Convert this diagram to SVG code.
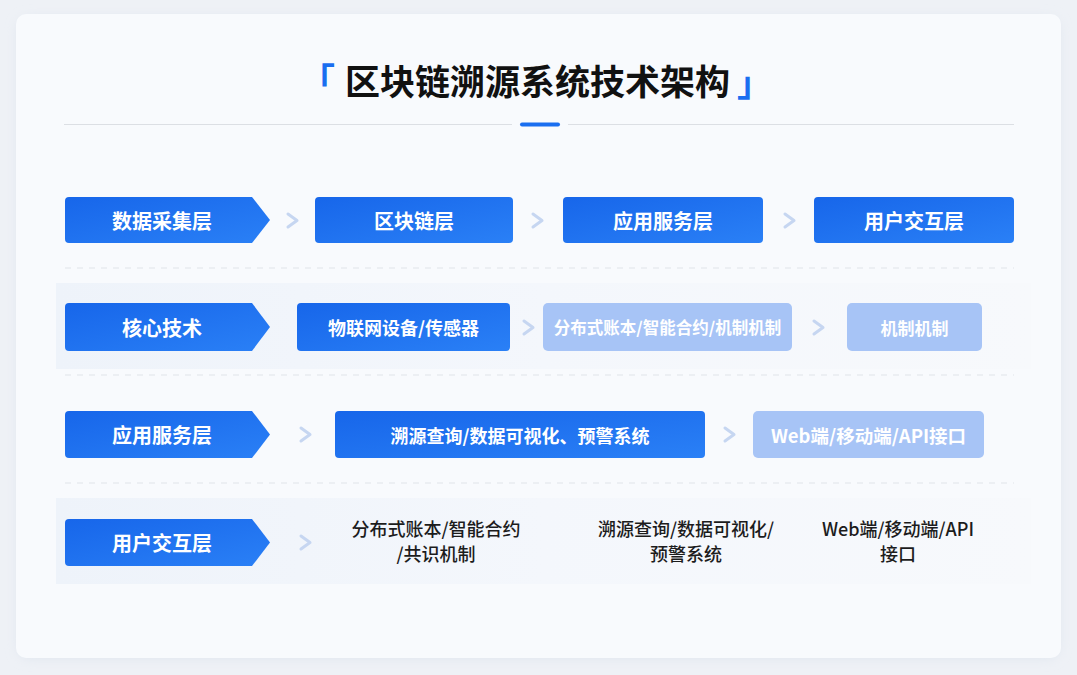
<svg xmlns="http://www.w3.org/2000/svg" width="1077" height="675" viewBox="0 0 1077 675">
<defs>
<linearGradient id="gBlue" x1="0" y1="0" x2="1" y2="1">
<stop offset="0" stop-color="#1766ea"/>
<stop offset="1" stop-color="#2a80f6"/>
</linearGradient>
<linearGradient id="gBand" x1="0" y1="0" x2="1" y2="0">
<stop offset="0" stop-color="#eef3fa"/>
<stop offset="0.5" stop-color="#f4f7fc"/>
<stop offset="1" stop-color="#f7f9fc"/>
</linearGradient>
<filter id="sh" x="-5%" y="-5%" width="110%" height="110%">
<feGaussianBlur stdDeviation="6"/>
</filter>
<style>
.dark{fill:url(#gBlue);}
.light{fill:#a7c4f6;}
.lbl{font-family:"Noto Sans CJK SC","Noto Sans",sans-serif;font-weight:700;fill:#fff;text-anchor:middle;dominant-baseline:central;}
.big{font-size:20px;}
.mid{font-size:18px;}
.plain{font-family:"Noto Sans CJK SC","Noto Sans",sans-serif;font-size:18px;font-weight:500;fill:#1c1c1c;text-anchor:middle;}
.chev{fill:none;stroke:#c6d6f1;stroke-width:3;stroke-linecap:round;stroke-linejoin:round;}
.dash{stroke:#dfe3ea;stroke-width:1.2;stroke-dasharray:6 6;}
.brk{font-family:"Noto Sans CJK SC",sans-serif;font-size:35px;font-weight:700;fill:#1a6ef0;}
</style>
</defs>
<rect width="1077" height="675" fill="#eef1f6"/>
<rect x="18" y="18" width="1041" height="640" rx="12" fill="#dfe5ee" filter="url(#sh)"/>
<rect x="16" y="14" width="1045" height="644" rx="10" fill="#f8fafd"/>
<rect x="56" y="283" width="975" height="86" fill="url(#gBand)"/>
<rect x="56" y="498" width="975" height="86" fill="url(#gBand)"/>

<g id="title">
<text class="brk" x="300" y="94">「</text>
<text x="537.5" y="95" font-family="Noto Sans CJK SC,sans-serif" font-size="35" font-weight="700" fill="#111" text-anchor="middle">区块链溯源系统技术架构</text>
<text class="brk" x="737" y="96">」</text>
<line x1="64" y1="124.5" x2="512" y2="124.5" stroke="#dcdfe4" stroke-width="1.2"/>
<line x1="568" y1="124.5" x2="1014" y2="124.5" stroke="#dcdfe4" stroke-width="1.2"/>
<rect x="520" y="122.5" width="40" height="4" rx="2" fill="#1a6ef0"/>
</g>

<g id="dividers">
<line class="dash" x1="65" y1="268" x2="1014" y2="268"/>
<line class="dash" x1="65" y1="375" x2="1014" y2="375"/>
<line class="dash" x1="65" y1="483" x2="1014" y2="483"/>
</g>

<g id="connectors">
<polyline class="chev" points="288,214 297,220.5 288,227"/>
<polyline class="chev" points="533,214 542,220.5 533,227"/>
<polyline class="chev" points="785,214 794,220.5 785,227"/>
<polyline class="chev" points="524,321 533,327.5 524,334"/>
<polyline class="chev" points="814,321 823,327.5 814,334"/>
<polyline class="chev" points="301,428 310,434.5 301,441"/>
<polyline class="chev" points="725,428 734,434.5 725,441"/>
<polyline class="chev" points="301,536 310,542.5 301,549"/>
</g>

<g id="row1-label">
<path class="dark" d="M69,197 H252 L270,220 L252,243 H69 Q65,243 65,239 V201 Q65,197 69,197 Z"/>
<text class="lbl big" x="162" y="220">数据采集层</text>
</g>
<g id="row1-blockchain">
<rect class="dark" x="315" y="197" width="198" height="46" rx="4"/>
<text class="lbl big" x="414" y="220">区块链层</text>
</g>
<g id="row1-app">
<rect class="dark" x="563" y="197" width="200" height="46" rx="4"/>
<text class="lbl big" x="663" y="220">应用服务层</text>
</g>
<g id="row1-user">
<rect class="dark" x="814" y="197" width="200" height="46" rx="4"/>
<text class="lbl big" x="914" y="220">用户交互层</text>
</g>

<g id="row2-label">
<path class="dark" d="M69,303 H252 L270,327 L252,351 H69 Q65,351 65,347 V307 Q65,303 69,303 Z"/>
<text class="lbl big" x="162" y="327">核心技术</text>
</g>
<g id="row2-iot">
<rect class="dark" x="297" y="303" width="213" height="48" rx="4"/>
<text class="lbl mid" x="403.5" y="327">物联网设备/传感器</text>
</g>
<g id="row2-ledger">
<rect class="light" x="543" y="303" width="249" height="48" rx="5"/>
<text class="lbl" x="667.5" y="327" font-size="16.5">分布式账本/智能合约/机制机制</text>
</g>
<g id="row2-mech">
<rect class="light" x="847" y="303" width="135" height="48" rx="5"/>
<text class="lbl" x="914.5" y="327" font-size="17">机制机制</text>
</g>

<g id="row3-label">
<path class="dark" d="M69,411 H252 L270,434.5 L252,458 H69 Q65,458 65,454 V415 Q65,411 69,411 Z"/>
<text class="lbl big" x="162" y="434.5">应用服务层</text>
</g>
<g id="row3-trace">
<rect class="dark" x="335" y="411" width="370" height="47" rx="4"/>
<text class="lbl mid" x="520" y="434.5">溯源查询/数据可视化、预警系统</text>
</g>
<g id="row3-web">
<rect class="light" x="753" y="411" width="231" height="47" rx="5"/>
<text class="lbl" x="868.5" y="434.5" font-size="18.5">Web端/移动端/API接口</text>
</g>

<g id="row4-label">
<path class="dark" d="M69,519 H252 L270,542.5 L252,566 H69 Q65,566 65,562 V523 Q65,519 69,519 Z"/>
<text class="lbl big" x="162" y="542.5">用户交互层</text>
</g>
<g id="row4-ledger">
<text class="plain" x="436" y="536">分布式账本/智能合约</text>
<text class="plain" x="436" y="561">/共识机制</text>
</g>
<g id="row4-trace">
<text class="plain" x="686" y="536">溯源查询/数据可视化/</text>
<text class="plain" x="686" y="561">预警系统</text>
</g>
<g id="row4-web">
<text class="plain" x="898" y="536">Web端/移动端/API</text>
<text class="plain" x="898" y="561">接口</text>
</g>
</svg>
